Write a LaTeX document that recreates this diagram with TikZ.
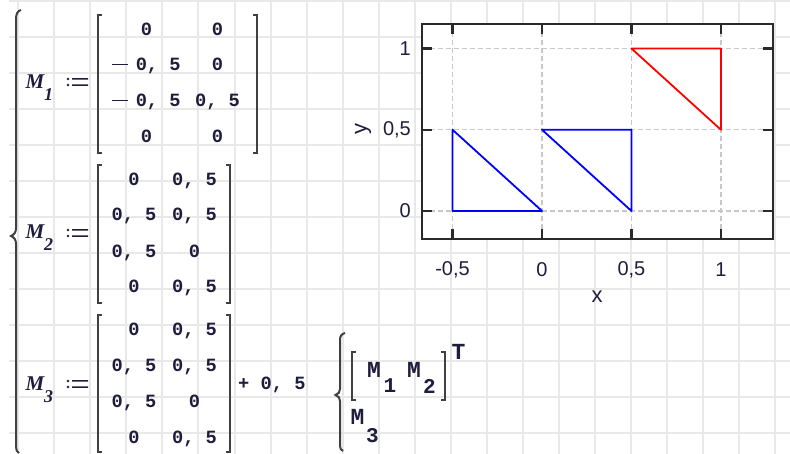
\documentclass[tikz,border=0pt]{standalone}
\usepackage{fontspec}
\setmainfont{Liberation Sans}
\newfontfamily\monof{Liberation Mono}
\newfontfamily\serf{Liberation Serif}
\definecolor{gridc}{HTML}{E8E8E8}
\definecolor{txt}{HTML}{1E1E3C}
\definecolor{brkc}{HTML}{404040}
\definecolor{dashc}{HTML}{C8C8C8}
\definecolor{framec}{HTML}{2A2A2A}
\newcommand\mcminus{\rule[5.6pt]{16pt}{1.6pt}\hspace{7.4pt}}
\tikzset{
  bgline/.style={draw=gridc, line width=2pt},
  brk/.style={draw=brkc, line width=2pt},
  mtx/.style={font=\monof\bfseries\fontsize{18.7}{18.7}\selectfont, text=txt, inner sep=0pt, anchor=base},
  varM/.style={font=\serf\bfseries\itshape\fontsize{21}{21}\selectfont, text=txt, inner sep=0pt},
  varsub/.style={font=\serf\bfseries\itshape\fontsize{18}{18}\selectfont, text=txt, inner sep=0pt},
  monoM/.style={font=\monof\bfseries\fontsize{23}{23}\selectfont, text=txt, inner sep=0pt},
  monosub/.style={font=\monof\bfseries\fontsize{21}{21}\selectfont, text=txt, inner sep=0pt},
  ticklab/.style={font=\fontsize{20}{20}\selectfont, text=txt, inner sep=0pt},
  axlab/.style={font=\fontsize{22}{22}\selectfont, text=txt, inner sep=0pt},
  plotframe/.style={draw=framec, line width=2.2pt},
  tickmark/.style={draw=framec, line width=2.2pt},
  gdash/.style={draw=dashc, line width=1.2pt, dash pattern=on 5pt off 3pt},
  curveb/.style={draw=blue, line width=1.8pt, line join=round},
  curver/.style={draw=red, line width=1.8pt, line join=round},
  assign/.pic={
    \fill[txt] (-9,-3) circle (1.3) (-9,3) circle (1.3);
    \fill[txt] (-5,-3.8) rectangle (11,-2.4) (-5,2.4) rectangle (11,3.8);
  }
}
\begin{document}
\begin{tikzpicture}[x=1pt,y=-1pt]
\useasboundingbox (0,0) rectangle (790,454);
\fill[white] (0,0) rectangle (790,454);
% background worksheet grid
\foreach \k in {0,...,12} \draw[bgline] (9,1+36*\k) -- (790,1+36*\k);
\foreach \k in {0,...,21} \draw[bgline] (18.2+36.05*\k,0) -- (18.2+36.05*\k,454);

% big left brace
\draw[brk] (21,10) .. controls (17.5,11) and (16,14) .. (16,19) -- (16,228)
  .. controls (16,232) and (14.5,234.5) .. (11,236)
  .. controls (14.5,237.5) and (16,240) .. (16,244) -- (16,447)
  .. controls (16,450) and (17,452) .. (19,453);

% M1 definition
\node[varM] (m1) at (35,82) {M};
\node[varsub] (m1s) at (48.5,95) {1};
\pic at (77,82) {assign};
\draw[brk] (101.5,15) -- (97.5,15) -- (97.5,153) -- (101.5,153);
\draw[brk] (253,15) -- (257,15) -- (257,153) -- (253,153);
\node[mtx] (a11) at (146.5,36) {0};
\node[mtx] (a12) at (217.5,36) {0};
\node[mtx] (a21) at (146.5,71) {\mcminus 0, 5};
\node[mtx] (a22) at (217.5,71) {0};
\node[mtx] (a31) at (146.5,107) {\mcminus 0, 5};
\node[mtx] (a32) at (217.5,107) {0, 5};
\node[mtx] (a41) at (146.5,143) {0};
\node[mtx] (a42) at (217.5,143) {0};

% M2 definition
\node[varM] (m2) at (35,232) {M};
\node[varsub] (m2s) at (48.5,245) {2};
\pic at (77,233) {assign};
\draw[brk] (101.5,165) -- (97.5,165) -- (97.5,303) -- (101.5,303);
\draw[brk] (225.5,165) -- (229.5,165) -- (229.5,303) -- (225.5,303);
\node[mtx] (b11) at (134,186) {0};
\node[mtx] (b12) at (194.5,186) {0, 5};
\node[mtx] (b21) at (134,221) {0, 5};
\node[mtx] (b22) at (194.5,221) {0, 5};
\node[mtx] (b31) at (134,258) {0, 5};
\node[mtx] (b32) at (194.5,258) {0};
\node[mtx] (b41) at (134,293) {0};
\node[mtx] (b42) at (194.5,293) {0, 5};

% M3 definition
\node[varM] (m3) at (35,384) {M};
\node[varsub] (m3s) at (48.5,397) {3};
\pic at (77,384) {assign};
\draw[brk] (101.5,315) -- (97.5,315) -- (97.5,452) -- (101.5,452);
\draw[brk] (225.5,315) -- (229.5,315) -- (229.5,452) -- (225.5,452);
\node[mtx] (c11) at (134,336) {0};
\node[mtx] (c12) at (194.5,336) {0, 5};
\node[mtx] (c21) at (134,371) {0, 5};
\node[mtx] (c22) at (194.5,371) {0, 5};
\node[mtx] (c31) at (134,407) {0, 5};
\node[mtx] (c32) at (194.5,407) {0};
\node[mtx] (c41) at (134,443) {0};
\node[mtx] (c42) at (194.5,443) {0, 5};
\node[mtx, anchor=base west] (plus) at (238,389) {+ 0, 5};

% local block brace
\draw[brk] (345,333) .. controls (341.5,334) and (340,336) .. (340,340) -- (340,389)
  .. controls (340,392) and (338.5,394) .. (335.5,395)
  .. controls (338.5,396) and (340,398) .. (340,401) -- (340,446)
  .. controls (340,448.5) and (341,450) .. (343,451);
\draw[brk] (356,352) -- (352,352) -- (352,400) -- (356,400);
\draw[brk] (441,352) -- (445,352) -- (445,400) -- (441,400);
\node[monoM] (l1) at (374,370) {M};
\node[monosub] (l1s) at (390,386) {1};
\node[monoM] (l2) at (414,370) {M};
\node[monosub] (l2s) at (429.5,386) {2};
\node[monoM] (lt) at (458.5,352) {T};
\node[monoM] (l3) at (357.5,417) {M};
\node[monosub] (l3s) at (372.5,436) {3};

% plot
\fill[white] (422,24) rectangle (773,239);
\foreach \xv in {452.55,542,631.45,720.9} \draw[gdash] (\xv,24) -- (\xv,239);
\foreach \yv in {211,129.75,48.5} \draw[gdash] (422,\yv) -- (773,\yv);
\draw[curveb] (452.55,211) -- (452.55,129.75) -- (542,211) -- cycle;
\draw[curveb] (542,129.75) -- (631.45,129.75) -- (631.45,211) -- cycle;
\draw[curver] (631.45,48.5) -- (720.9,48.5) -- (720.9,129.75) -- cycle;
\foreach \xv in {452.55,542,631.45,720.9} {
  \draw[tickmark] (\xv,24) -- (\xv,34);
  \draw[tickmark] (\xv,239) -- (\xv,229);
}
\foreach \yv in {211,129.75,48.5} {
  \draw[tickmark] (422,\yv) -- (432,\yv);
  \draw[tickmark] (773,\yv) -- (763,\yv);
}
\draw[plotframe] (422,24) rectangle (773,239);
\node[ticklab, anchor=east] (y1) at (411,48.5) {1};
\node[ticklab, anchor=east] (y05) at (411,129.75) {0,5};
\node[ticklab, anchor=east] (y0) at (411,211) {0};
\node[ticklab] (x1) at (452.55,270) {-0,5};
\node[ticklab] (x2) at (542,270) {0};
\node[ticklab] (x3) at (631.45,270) {0,5};
\node[ticklab] (x4) at (720.9,270) {1};
\node[axlab] (xl) at (597,297) {x};
\node[axlab, rotate=90] (yl) at (363,129) {y};
\end{tikzpicture}
\end{document}
